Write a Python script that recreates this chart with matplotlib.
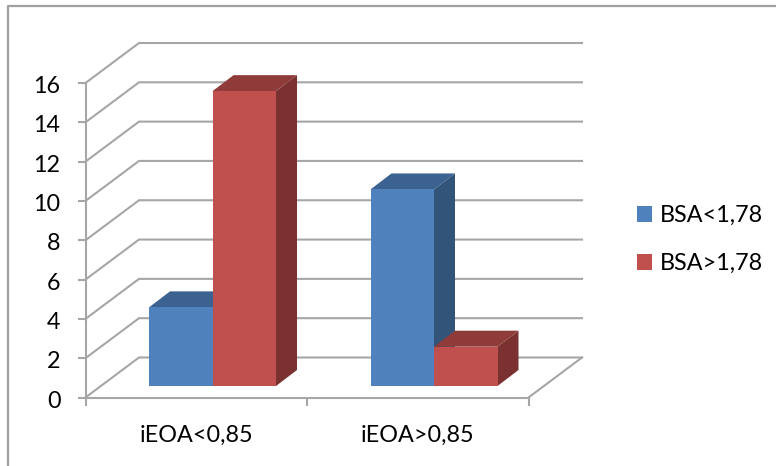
import matplotlib
matplotlib.use("Agg")
import matplotlib.pyplot as plt
from matplotlib.patches import Polygon, Rectangle
from matplotlib.transforms import ScaledTranslation

categories = ["iEOA<0,85", "iEOA>0,85"]
series_names = ["BSA<1,78", "BSA>1,78"]
low_bsa = [4, 10]
high_bsa = [15, 2]
y_ticks = [0, 2, 4, 6, 8, 10, 12, 14, 16]

W, H = 776, 466
AX_L, AX_R, AX_B, AX_T = 85.5, 528.5, 397.5, 83.0
FONT_SIZE = 16.8

plt.rcParams["font.family"] = ["Lato", "DejaVu Sans"]
fig = plt.figure(figsize=(W / 100, H / 100), dpi=100)
ax = fig.add_axes([AX_L / W, 1 - AX_B / H, (AX_R - AX_L) / W, (AX_B - AX_T) / H])
ax.set_xlim(0, 2)
ax.set_ylim(0, 16)
ax.patch.set_visible(False)

GRID = "#a6a6a6"
LINE_W = 1.5
per_x = (AX_R - AX_L) / 2
per_y = (AX_B - AX_T) / 16


def px(dx, dy):
    """Convert a screen offset in pixels (y up) to data units."""
    return dx / per_x, dy / per_y


# Depth of the floor and back wall, and of the bars
wall_dx, wall_dy = px(53.5, 40)
bar_dx, bar_dy = px(21, 16)
bar_w = 63.5 / per_x
base_y = (AX_B - 386) / per_y
first_bar = (149 - AX_L) / per_x

# Back wall gridlines with their slanted run back from the value axis
for v in y_ticks:
    ax.plot([0, wall_dx, 2 + wall_dx], [v, v + wall_dy, v + wall_dy],
            color=GRID, lw=LINE_W, clip_on=False, zorder=1, solid_joinstyle="miter")
ax.plot([2, 2 + wall_dx], [0, wall_dy], color=GRID, lw=LINE_W, clip_on=False, zorder=1)

# Chart frame: left and top edges only
fig.add_artist(plt.Line2D([7.5 / W, 7.5 / W, 1], [0, 1 - 6 / H, 1 - 6 / H],
                          color="#a0a0a0", lw=1.6))

COLORS = {
    0: ("#4f81bd", "#3b6291", "#335479"),
    1: ("#c0504d", "#8f3b39", "#7a3130"),
}


def draw_bar(x0, value, shades):
    front, top, side = shades
    x1 = x0 + bar_w
    y1 = base_y + value
    ax.add_patch(Polygon([(x1, base_y), (x1 + bar_dx, base_y + bar_dy),
                          (x1 + bar_dx, y1 + bar_dy), (x1, y1)],
                         fc=side, ec="none", clip_on=False, zorder=3))
    ax.add_patch(Polygon([(x0, y1), (x0 + bar_dx, y1 + bar_dy),
                          (x1 + bar_dx, y1 + bar_dy), (x1, y1)],
                         fc=top, ec="none", clip_on=False, zorder=3))
    ax.add_patch(Rectangle((x0, base_y), bar_w, value, fc=front, ec="none",
                           clip_on=False, zorder=3))


# Bars are drawn left to right so neighbours overlap correctly
for i in range(len(categories)):
    left = i + first_bar
    draw_bar(left, low_bsa[i], COLORS[0])
    draw_bar(left + bar_w, high_bsa[i], COLORS[1])

# Axes
for s in ("top", "right"):
    ax.spines[s].set_visible(False)
for s in ("left", "bottom"):
    ax.spines[s].set_color(GRID)
    ax.spines[s].set_linewidth(LINE_W)
    ax.spines[s].set_zorder(2)

ax.set_yticks(y_ticks)
ax.set_xticks([0, 1, 2])
ax.set_xticklabels([])
ax.set_xticks([0.5, 1.5], minor=True)
ax.set_xticklabels(categories, minor=True)
ax.tick_params(axis="x", which="major", length=6, width=LINE_W, color=GRID)
ax.tick_params(axis="x", which="minor", length=0, labelsize=FONT_SIZE, pad=19.5, labelcolor="#000000")
ax.tick_params(axis="y", length=6, width=LINE_W, color=GRID, labelsize=FONT_SIZE, pad=12, labelcolor="#000000")

# The value labels sit slightly below their ticks
nudge = ScaledTranslation(0, -1.5 / 100, fig.dpi_scale_trans)
for label in ax.get_yticklabels():
    label.set_transform(label.get_transform() + nudge)

# Legend
handles = [Rectangle((0, 0), 1, 1, fc=COLORS[i][0], ec="none") for i in range(2)]
fig.legend(handles, series_names, loc="upper left",
           bbox_to_anchor=(637 / W, 1 - 205 / H), frameon=False, fontsize=FONT_SIZE,
           handlelength=0.64, handleheight=0.64, handletextpad=0.34,
           labelspacing=1.16, borderpad=0, borderaxespad=0)

fig.savefig("out.png", dpi=100, facecolor="white")
